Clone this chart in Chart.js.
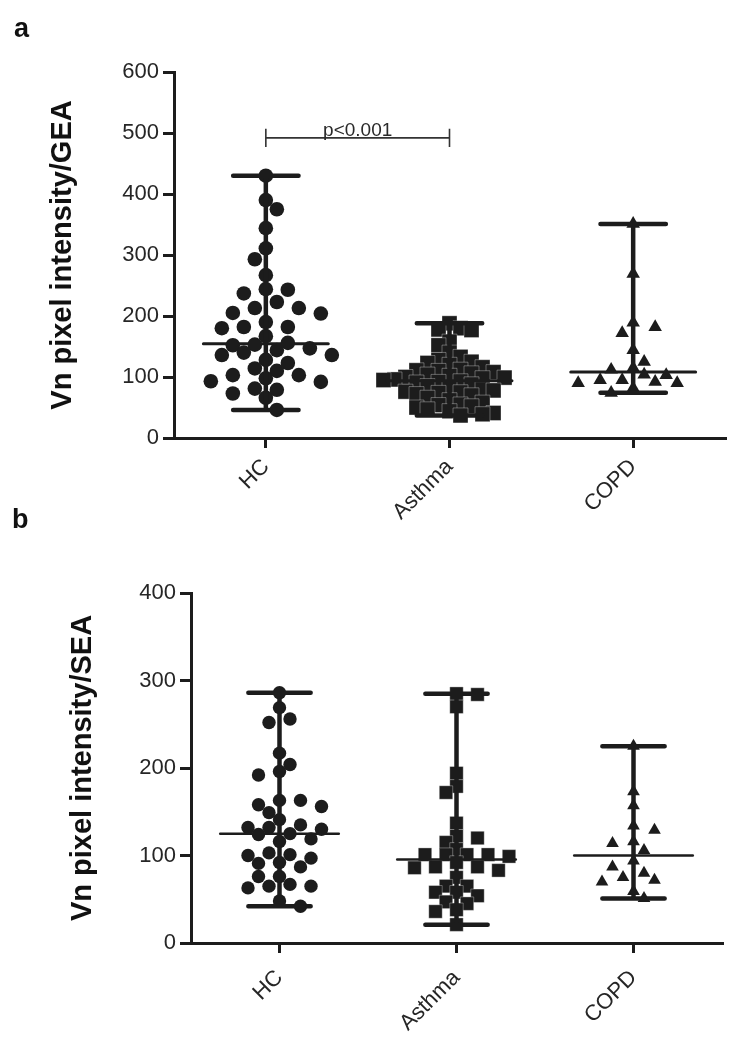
<!DOCTYPE html>
<html><head><meta charset="utf-8">
<script src="https://cdn.jsdelivr.net/npm/chart.js@4.4.0/dist/chart.umd.min.js"></script>
<style>
html,body{margin:0;padding:0;background:#fff;}
#wrap{position:relative;width:743px;height:1050px;overflow:hidden;}
canvas{position:absolute;left:0;}
#ca{top:0;} #cb{top:480px;}
</style></head><body>
<div id="wrap"><canvas id="ca" width="743" height="525"></canvas><canvas id="cb" width="743" height="570"></canvas></div>
<script>
// ---------- data ----------
const categories = ['HC', 'Asthma', 'COPD'];

// panel a : Vn pixel intensity / GEA
const geaHC = [430, 390, 375, 344, 311, 293, 267, 244, 243, 237, 223, 213, 213, 205, 204, 190, 182, 182, 180, 167,
  156, 153, 152, 147, 144, 140, 136, 136, 128, 123, 114, 110, 103, 103, 98, 93, 92, 81, 79, 73, 66, 46];
const geaAsthma = [188, 180, 178, 177, 158, 152, 140, 133, 128, 125, 123, 120, 116, 112, 111, 110, 108, 106, 104, 102,
  100, 99, 98, 96, 95, 93, 92, 91, 88, 85, 82, 80, 78, 76, 75, 74, 72, 70, 66, 62, 58, 55, 54, 52, 50, 47, 44, 41, 39, 37];
const geaCOPD = [351, 269, 189, 182, 172, 144, 125, 115, 112, 104, 103, 95, 95, 92, 90, 90, 82, 74];

// panel b : Vn pixel intensity / SEA
const seaHC = [286, 269, 256, 252, 217, 204, 196, 192, 163, 163, 158, 156, 149, 141, 135, 132, 132, 130, 125, 124,
  119, 116, 103, 101, 100, 97, 92, 91, 87, 76, 76, 67, 65, 65, 63, 48, 42];
const seaAsthma = [285, 284, 270, 194, 179, 172, 137, 122, 120, 115, 107, 101, 101, 101, 101, 99, 92, 87, 87, 86,
  83, 75, 65, 65, 58, 58, 54, 47, 45, 38, 36, 21];
const seaCOPD = [225, 173, 157, 134, 129, 116, 114, 106, 94, 87, 80, 75, 72, 70, 59, 51];

const geaTicks = [0, 100, 200, 300, 400, 500, 600];
const seaTicks = [0, 100, 200, 300, 400];
const geaTitle = 'Vn pixel intensity/GEA';
const seaTitle = 'Vn pixel intensity/SEA';
const pValueText = 'p<0.001';
const pValueLevel = 492;   // y value of the comparison bracket (HC vs Asthma)

// ---------- helpers ----------
const INK = '#1c1c1c';
const FONT = "'Liberation Sans', Arial, Helvetica, sans-serif";
Chart.defaults.font.family = FONT;
Chart.defaults.color = '#262626';

function median(a) {
  const s = [...a].sort((x, y) => x - y), n = s.length;
  return n % 2 ? s[(n - 1) / 2] : (s[n / 2 - 1] + s[n / 2]) / 2;
}

function buildPanel(canvasId, cfg) {
  const datasets = [];
  const swarmInfo = [];
  cfg.groups.forEach((g, i) => {
    const mn = Math.min(...g.values), mx = Math.max(...g.values), md = median(g.values);
    datasets.push({
      type: 'line', label: 'range' + i, order: 0,
      data: [{x: i, y: mx}, {x: i, y: mn}, {x: i, y: null},
             {x: i - cfg.capHalf, y: mx}, {x: i + cfg.capHalf, y: mx}, {x: i, y: null},
             {x: i - cfg.capHalf, y: mn}, {x: i + cfg.capHalf, y: mn}],
      borderColor: INK, borderWidth: cfg.rangeWidth, pointRadius: 0, borderCapStyle: 'round', spanGaps: false, fill: false
    });
    datasets.push({
      type: 'line', label: 'median' + i, order: 0,
      data: [{x: i - cfg.medHalf, y: md}, {x: i + cfg.medHalf, y: md}],
      borderColor: INK, borderWidth: cfg.medWidth, pointRadius: 0, borderCapStyle: 'round', fill: false
    });
    datasets.push({
      type: 'scatter', label: categories[i], order: 1,
      data: g.values.map(v => ({x: i, y: v})),
      pointStyle: g.style, pointRadius: g.radius, pointHoverRadius: g.radius,
      backgroundColor: INK, borderColor: g.style === 'rect' ? 'rgba(255,255,255,0.55)' : INK,
      borderWidth: g.style === 'rect' ? 0.6 : 0
    });
    swarmInfo.push({dsIndex: datasets.length - 1, cat: i, values: g.values, dist: g.dist});
  });
  if (cfg.bracket) {
    const b = cfg.bracket;
    datasets.push({
      type: 'line', label: 'bracket', order: 0,
      data: [{x: b.from, y: b.level + b.tick}, {x: b.from, y: b.level - b.tick}, {x: b.from, y: null},
             {x: b.from, y: b.level}, {x: b.to, y: b.level}, {x: b.to, y: null},
             {x: b.to, y: b.level + b.tick}, {x: b.to, y: b.level - b.tick}],
      borderColor: '#333', borderWidth: 1.6, pointRadius: 0, fill: false
    });
  }

  const textPlugin = {
    id: 'texts',
    afterDraw(chart) {
      const ctx = chart.ctx;
      ctx.save();
      ctx.fillStyle = '#111';
      ctx.font = 'bold 27px ' + FONT;
      ctx.textAlign = 'left';
      ctx.textBaseline = 'alphabetic';
      ctx.fillText(cfg.letter, cfg.letterX, cfg.letterY);
      if (cfg.bracket) {
        const b = cfg.bracket;
        const xs = chart.scales.x, ys = chart.scales.y;
        const cx = (xs.getPixelForValue(b.from) + xs.getPixelForValue(b.to)) / 2;
        ctx.font = '19px ' + FONT;
        ctx.fillStyle = '#2a2a2a';
        ctx.textAlign = 'center';
        ctx.fillText(b.text, cx, ys.getPixelForValue(b.level) - 2);
      }
      ctx.restore();
    }
  };

  const chart = new Chart(document.getElementById(canvasId), {
    type: 'scatter',
    data: {datasets},
    options: {
      responsive: false, animation: false, devicePixelRatio: 1,
      layout: {padding: cfg.padding},
      plugins: {legend: {display: false}, tooltip: {enabled: false}},
      scales: {
        x: {
          type: 'linear', min: -0.5, max: 2.5,
          afterBuildTicks: s => { s.ticks = categories.map((c, i) => ({value: i})); },
          afterFit: s => { s.height = cfg.xHeight; },
          ticks: {callback: v => categories[v], minRotation: 45, maxRotation: 45, autoSkip: false,
                  font: {size: 22}, color: '#262626', padding: cfg.xPad},
          grid: {display: true, drawOnChartArea: false, drawTicks: true, tickLength: 10, lineWidth: 3, color: INK},
          border: {display: true, width: 3, color: INK}
        },
        y: {
          type: 'linear', min: cfg.yTicks[0], max: cfg.yTicks[cfg.yTicks.length - 1],
          afterBuildTicks: s => { s.ticks = cfg.yTicks.map(v => ({value: v})); },
          afterFit: s => { s.width = cfg.yWidth; },
          ticks: {font: {size: 22}, color: '#262626', padding: 4},
          grid: {display: true, drawOnChartArea: false, drawTicks: true, tickLength: 11, lineWidth: 3, color: INK},
          border: {display: true, width: 3, color: INK},
          title: {display: true, text: cfg.title, color: '#111', font: {size: 29, weight: 'bold'},
                  padding: {top: cfg.titlePad, bottom: 0}}
        }
      }
    },
    plugins: [textPlugin]
  });

  // beeswarm spreading of points (computed in pixel space from the chart's own scales)
  const xs = chart.scales.x, ys = chart.scales.y;
  const pxPerCat = xs.getPixelForValue(1) - xs.getPixelForValue(0);
  swarmInfo.forEach(info => {
    const vals = info.values;
    const order = vals.map((v, i) => i).sort((a, b) => vals[b] - vals[a]);
    const off = new Array(vals.length).fill(0);
    const placed = [];
    let left = 0, right = 0;
    order.forEach(idx => {
      const py = ys.getPixelForValue(vals[idx]);
      for (let k = 0; k < 30; k++) {
        const cands = k === 0 ? [0] : (right <= left ? [k, -k] : [-k, k]);
        let ok = false;
        for (const c of cands) {
          const px = c * cfg.step;
          if (placed.every(p => Math.hypot(p.x - px, p.y - py) >= info.dist)) {
            placed.push({x: px, y: py}); off[idx] = px;
            if (c > 0) right++; else if (c < 0) left++;
            ok = true; break;
          }
        }
        if (ok) break;
      }
    });
    chart.data.datasets[info.dsIndex].data = vals.map((v, i) => ({x: info.cat + off[i] / pxPerCat, y: v}));
  });
  chart.update('none');
  return chart;
}

buildPanel('ca', {
  letter: 'a', letterX: 14, letterY: 37,
  title: geaTitle, titlePad: 46, yTicks: geaTicks,
  padding: {left: 0, top: 72, right: 18, bottom: 0}, yWidth: 174, xHeight: 87, xPad: 6,
  capHalf: 0.178, medHalf: 0.34, rangeWidth: 4.5, medWidth: 3, step: 11,
  groups: [
    {values: geaHC, style: 'circle', radius: 7.3, dist: 13},
    {values: geaAsthma, style: 'rect', radius: 10.6, dist: 10.5},
    {values: geaCOPD, style: 'triangle', radius: 7.8, dist: 12.5}
  ],
  bracket: {from: 0, to: 1, level: pValueLevel, tick: 15, text: pValueText}
});

buildPanel('cb', {
  letter: 'b', letterX: 12, letterY: 48,
  title: seaTitle, titlePad: 66, yTicks: seaTicks,
  padding: {left: 0, top: 113, right: 21, bottom: 0}, yWidth: 191, xHeight: 107, xPad: 12,
  capHalf: 0.176, medHalf: 0.335, rangeWidth: 4.5, medWidth: 2.5, step: 10.5,
  groups: [
    {values: seaHC, style: 'circle', radius: 6.7, dist: 12.5},
    {values: seaAsthma, style: 'rect', radius: 9.5, dist: 11.5},
    {values: seaCOPD, style: 'triangle', radius: 7.3, dist: 12.5}
  ]
});
</script>
</body></html>
